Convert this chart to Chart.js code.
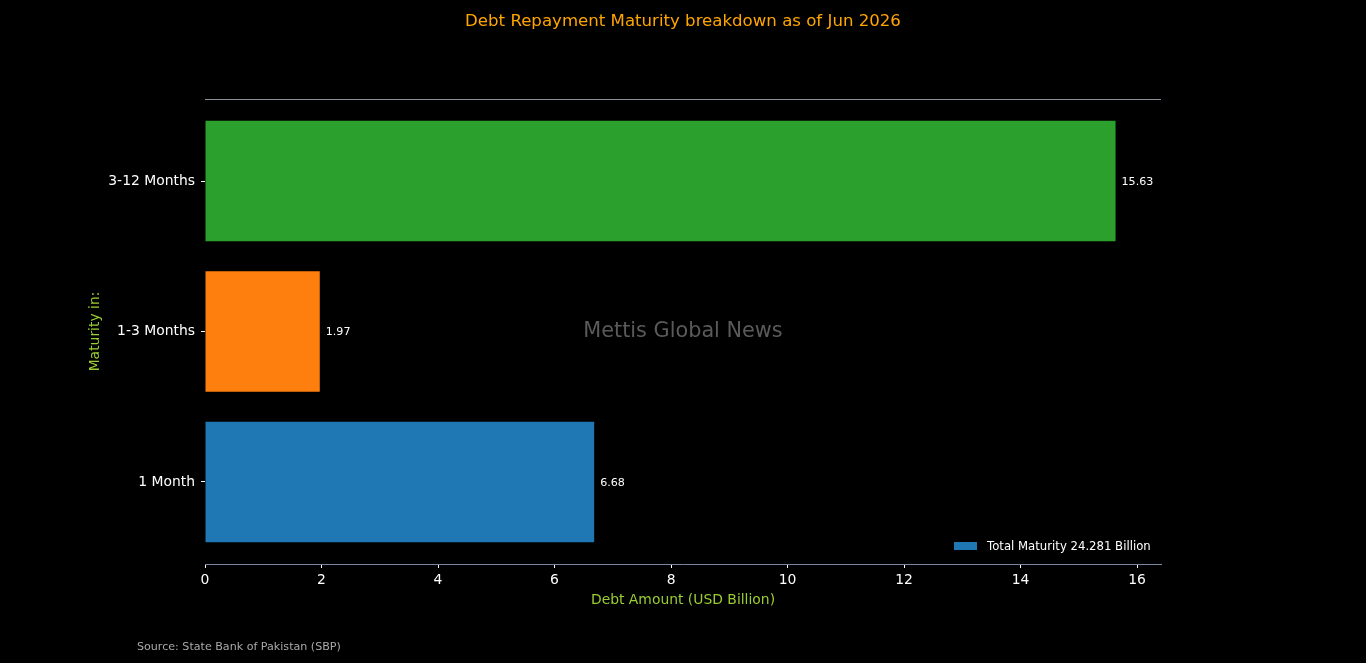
<!DOCTYPE html>
<html>
<head>
<meta charset="utf-8">
<script src="https://cdn.jsdelivr.net/npm/chart.js@4"></script>
<style>
  html, body { margin: 0; padding: 0; background: #000; }
  #wrap { width: 1366px; height: 663px; }
</style>
</head>
<body>
<div id="wrap"><canvas id="debtChart"></canvas></div>
<script>
const categories = ["1 Month", "1-3 Months", "3-12 Months"];
const amounts = [6.68, 1.97, 15.63];
const barColors = ["#1f77b4", "#ff7f0e", "#2ca02c"];
const xTicks = [0, 2, 4, 6, 8, 10, 12, 14, 16];
const legendText = "Total Maturity 24.281 Billion";

const font = "DejaVu Sans";

// extra text drawn on the canvas: title, watermark, legend, source, value labels, top spine
const decorations = {
  id: "decorations",
  afterDatasetsDraw(chart) {
    const { ctx, chartArea } = chart;
    ctx.save();
    // top spine
    ctx.strokeStyle = "#8a8f99";
    ctx.lineWidth = 1;
    ctx.beginPath();
    ctx.moveTo(chartArea.left, chartArea.top + 0.5);
    ctx.lineTo(chartArea.right, chartArea.top + 0.5);
    ctx.stroke();

    // value labels
    const meta = chart.getDatasetMeta(0);
    ctx.fillStyle = "#ffffff";
    ctx.font = "11.1px '" + font + "'";
    ctx.textAlign = "left";
    ctx.textBaseline = "middle";
    meta.data.forEach((bar, i) => {
      ctx.fillText(amounts[i].toFixed(2), bar.x + 6, bar.y + 1);
    });

    // watermark
    ctx.fillStyle = "#5a5a5a";
    ctx.font = "20.8px '" + font + "'";
    ctx.textAlign = "center";
    ctx.fillText("Mettis Global News", 683, 332);

    // title
    ctx.fillStyle = "#ffa500";
    ctx.font = "16.6px '" + font + "'";
    ctx.fillText("Debt Repayment Maturity breakdown as of Jun 2026", 683, 22);

    // legend
    ctx.fillStyle = barColors[0];
    ctx.fillRect(954, 542, 23, 8);
    ctx.fillStyle = "#ffffff";
    ctx.font = "11.7px '" + font + "'";
    ctx.textAlign = "left";
    ctx.fillText(legendText, 987, 547);

    // source
    ctx.fillStyle = "#aaaaaa";
    ctx.font = "11.1px '" + font + "'";
    ctx.fillText("Source: State Bank of Pakistan (SBP)", 137, 647);
    ctx.restore();
  }
};

new Chart(document.getElementById("debtChart").getContext("2d"), {
  type: "bar",
  data: {
    datasets: [{
      label: legendText,
      data: amounts.map((v, i) => ({ x: v, y: i })),
      backgroundColor: barColors,
      borderWidth: 0,
      categoryPercentage: 1,
      barPercentage: 0.8
    }]
  },
  options: {
    indexAxis: "y",
    responsive: true,
    maintainAspectRatio: false,
    animation: false,
    layout: { padding: { left: 0, right: 205, top: 99, bottom: 51 } },
    plugins: {
      legend: { display: false },
      tooltip: { enabled: false }
    },
    scales: {
      x: {
        type: "linear",
        min: 0,
        max: 16.41,
        afterBuildTicks: scale => { scale.ticks = xTicks.map(v => ({ value: v })); },
        afterFit: scale => { scale.height = 48; },
        border: { display: true, color: "#7788a0", width: 1 },
        grid: { drawOnChartArea: false, drawTicks: true, tickLength: 4, color: "#ffffff" },
        ticks: { color: "#ffffff", padding: 4, font: { family: font, size: 13.9 } },
        title: {
          display: true,
          text: "Debt Amount (USD Billion)",
          color: "#9acd32",
          padding: { top: 0, bottom: 3 },
          font: { family: font, size: 13.9 }
        }
      },
      y: {
        type: "linear",
        offset: false,
        min: -0.545,
        max: 2.545,
        afterBuildTicks: scale => { scale.ticks = categories.map((c, i) => ({ value: i })); },
        afterFit: scale => { scale.width = 205; },
        border: { display: false },
        grid: { offset: false, drawOnChartArea: false, drawTicks: true, tickLength: 4, color: "#ffffff" },
        ticks: {
          color: "#ffffff",
          padding: 6,
          font: { family: font, size: 13.9 },
          callback: v => categories[v]
        },
        title: {
          display: true,
          text: "Maturity in:",
          color: "#9acd32",
          padding: { top: 87, bottom: 0 },
          font: { family: font, size: 13.9 }
        }
      }
    }
  },
  plugins: [decorations]
});
</script>
</body>
</html>
